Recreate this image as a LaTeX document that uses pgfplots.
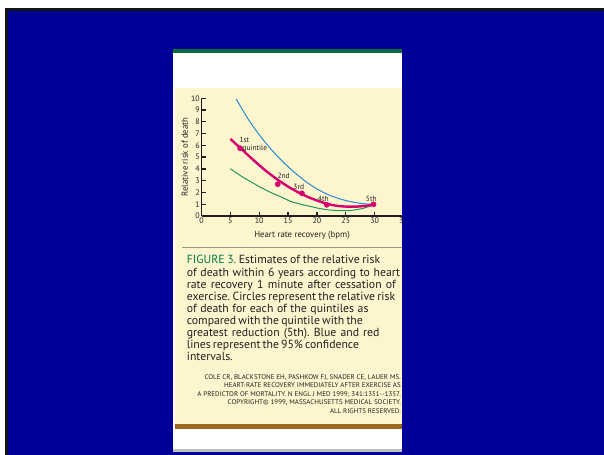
\documentclass[border=0pt]{standalone}
\usepackage{fontspec}
\setmainfont{PT Sans}
\newfontfamily\citefont[FakeStretch=1.035]{PT Sans}
\usepackage{pgfplots}
\pgfplotsset{compat=1.18}
\definecolor{slideblue}{RGB}{0,0,153}
\definecolor{panelgreen}{RGB}{12,108,60}
\definecolor{cream}{RGB}{253,245,206}
\definecolor{barbrown}{RGB}{155,105,35}
\definecolor{panelgray}{RGB}{192,192,192}
\definecolor{sepgray}{RGB}{150,150,140}
\definecolor{figgreen}{RGB}{0,120,72}
\definecolor{textgray}{RGB}{35,31,32}
\definecolor{cblue}{RGB}{35,140,210}
\definecolor{cred}{RGB}{214,0,110}
\definecolor{cgreen}{RGB}{30,150,90}
\newcommand{\cl}[2]{\makebox[#1bp][s]{#2}}
\frenchspacing
\begin{document}
\begin{tikzpicture}[x=1bp,y=1bp]
\useasboundingbox (0,0) rectangle (604,455);
\fill[white] (0,0) rectangle (604,455);
\fill[black!92] (5,0) rectangle (604,447);
\fill[slideblue] (7.5,0) rectangle (604,444);
% panel
\fill[white] (173,2.7) rectangle (402,402);
\fill[panelgreen] (173,401.7) rectangle (402,406);
\fill[panelgray] (173,2.7) rectangle (402,5.7);
\fill[cream] (175,31) rectangle (402,367);
\fill[barbrown] (175,26) rectangle (402,31);
\draw[sepgray, line width=0.9bp] (182,208) -- (402,208);
\begin{scope}
\clip (175,31) rectangle (402,367);
\begin{axis}[
  at={(201.5bp,239bp)}, anchor=south west,
  scale only axis, width=202bp, height=117.7bp,
  xmin=0, xmax=35, ymin=0, ymax=10,
  axis lines*=left,
  axis line style={line width=1.3bp, color=textgray},
  xtick={0,5,...,35}, ytick={0,1,...,10},
  tick align=inside,
  major tick length=4bp,
  tick style={line width=1.3bp, color=textgray},
  /pgf/number format/assume math mode=true,
  ticklabel style={font=\fontsize{8}{8}\selectfont, text=textgray},
  yticklabel style={inner sep=1.5bp},
  xticklabel style={inner sep=1.5bp},
  xlabel={Heart rate recovery (bpm)},
  ylabel={Relative risk of death},
  label style={font=\fontsize{8.8}{9}\selectfont, text=textgray},
  xlabel style={at={(axis description cs:0.4975,-0.161)}, anchor=center},
  ylabel style={at={(axis description cs:-0.083,0.501)}, anchor=center},
  clip=false,
]
\addplot[cblue, line width=1bp, smooth] coordinates {
 (6,9.95) (8,8.3) (10,6.9) (12,5.7) (14,4.65) (16,3.75) (18,2.95) (20,2.3)
 (22,1.8) (24,1.45) (26,1.2) (28,1.05) (30,0.98)};
\addplot[cgreen, line width=1bp, smooth] coordinates {
 (5,4.02) (7,3.35) (9,2.78) (10,2.5) (12,2.0) (14,1.57) (15.4,1.25) (17,1.02)
 (19,0.8) (20,0.68) (22,0.52) (24,0.45) (25,0.45) (26,0.48) (28,0.65) (30,0.98)};
\addplot[cred, line width=2.4bp, smooth] coordinates {
 (5,6.55) (7,5.65) (9,4.75) (11,3.9) (13,3.15) (15,2.5) (17,1.95) (19,1.5)
 (21,1.15) (23,0.9) (25,0.8) (27,0.8) (29,0.9) (30,0.98)};
\addplot[only marks, mark=*, mark size=2.6bp, cred] coordinates {
 (6.7,5.75) (13.2,2.7) (17.4,1.93) (21.7,0.95) (29.8,0.99)};
\begin{scope}[every node/.style={font=\fontsize{7.5}{8}\selectfont, text=textgray, inner sep=0, anchor=base west}]
\node at (axis cs:6.55,6.24) {1st};
\node at (axis cs:7.07,5.6) {quintile};
\node at (axis cs:13.14,3.17) {2nd};
\node at (axis cs:15.9,2.24) {3rd};
\node at (axis cs:20.14,1.19) {4th};
\node at (axis cs:28.46,1.19) {5th};
\end{scope}
\end{axis}
\end{scope}
% caption
\begin{scope}[every node/.style={anchor=base west, inner sep=0, text=textgray, font=\fontsize{11.8}{12}\selectfont}]
\node at (186.7,191) {\cl{193.3}{{\color{figgreen}FIGURE 3.} Estimates of the relative risk}};
\node at (186.7,178.9) {\cl{213.3}{of death within 6 years according to heart}};
\node at (186.7,166.8) {\cl{209}{rate recovery 1 minute after cessation of}};
\node at (186.7,154.7) {\cl{208.3}{exercise. Circles represent the relative risk}};
\node at (186.7,142.7) {\cl{181.6}{of death for each of the quintiles as}};
\node at (186.7,130.6) {\cl{176}{compared with the quintile with the}};
\node at (186.7,118.5) {\cl{192.6}{greatest reduction (5th). Blue and red}};
\node at (186.7,106.4) {\cl{170.6}{lines represent the 95\% confidence}};
\node at (186.7,94.3) {intervals.};
\end{scope}
\begin{scope}[every node/.style={anchor=base east, inner sep=0, text=textgray, font=\citefont\fontsize{6.8}{7}\selectfont}]
\node at (401,75.7) {COLE CR, BLACKSTONE EH, PASHKOW FJ, SNADER CE, LAUER MS.};
\node at (401,67.3) {HEART-RATE RECOVERY IMMEDIATELY AFTER EXERCISE AS};
\node at (401,58.3) {A PREDICTOR OF MORTALITY. N ENGL J MED 1999; 341:1351--1357.};
\node at (401,50) {COPYRIGHT\textcopyright{} 1999, MASSACHUSETTS MEDICAL SOCIETY.};
\node at (401,41.7) {ALL RIGHTS RESERVED.};
\end{scope}
\end{tikzpicture}
\end{document}
